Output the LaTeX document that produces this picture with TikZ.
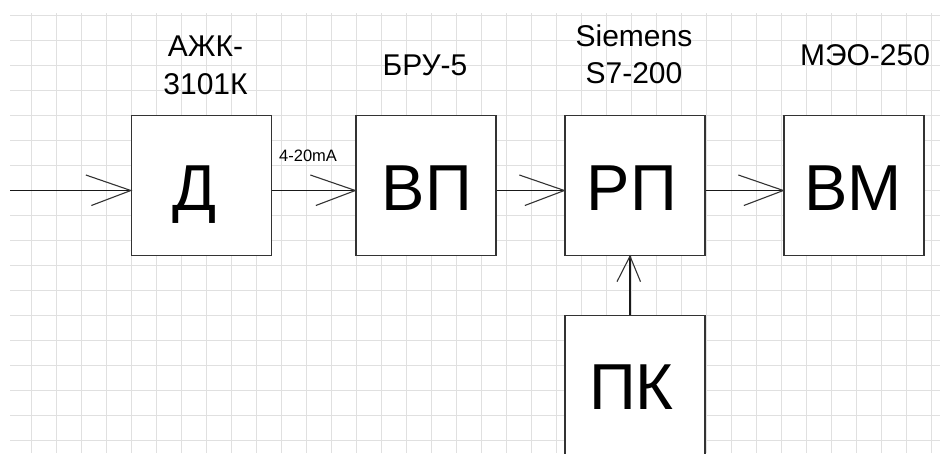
\documentclass[tikz,border=0pt]{standalone}
\usepackage{fontspec}
\setmainfont{Liberation Sans}
\begin{document}
\begin{tikzpicture}[x=1pt,y=-1pt,
  gridline/.style={draw=black!12,line width=1pt},
  blk/.style={draw=black!80,line width=1.3pt,fill=white,minimum width=140pt,minimum height=140pt,inner sep=0pt},
  big/.style={font=\fontsize{65}{65}\selectfont,anchor=base,inner sep=0pt},
  lbl/.style={font=\fontsize{30}{36}\selectfont,anchor=base,inner sep=0pt},
  small/.style={font=\fontsize{16.5}{18}\selectfont,anchor=base west,inner sep=0pt},
  conn/.style={draw=black!90,line width=1.3pt},
  barb/.style={draw=black!80,line width=1.1pt}]
\useasboundingbox (0,0) rectangle (940,453);
\clip (0,0) rectangle (940,453);
\fill[white] (0,0) rectangle (940,453);
% grid
\foreach \i in {0,...,17} \draw[gridline] (10,15.5+25*\i) -- (940,15.5+25*\i);
\foreach \i in {0,...,36} \draw[gridline] (31.5+25*\i,13) -- (31.5+25*\i,453);
% blocks
\node[blk] (d) at (201.5,185.5) {};
\node[blk] (vp) at (426,185.5) {};
\node[blk] (rp) at (635,185.5) {};
\node[blk] (vm) at (854,185.5) {};
\node[blk] (pk) at (635,385.5) {};
% block texts
\node[big] (dt) at (195,210) {Д};
\node[big] (vpt) at (427,210) {ВП};
\node[big] (rpt) at (631.7,210) {РП};
\node[big] (vmt) at (853.3,210) {ВМ};
\node[big] (pkt) at (631.5,409.3) {ПК};
% labels
\node[lbl] (l1a) at (205.5,56) {АЖК-};
\node[lbl] (l1b) at (205.5,94) {3101К};
\node[lbl] (l2) at (425,75) {БРУ-5};
\node[lbl] (l3a) at (634,46.7) {Siemens};
\node[lbl] (l3b) at (634,83.3) {S7-200};
\node[lbl] (l4) at (865,65) {МЭО-250};
\node[small] (ma) at (279,161.7) {4-20mA};
% connectors
\coordinate (in) at (10,190.5);
\draw[conn] (in) -- (in -| d.west);
\draw[conn] ([yshift=-5pt]d.east) -- ([yshift=-5pt]vp.west);
\draw[conn] ([yshift=-5pt]vp.east) -- ([yshift=-5pt]rp.west);
\draw[conn] ([yshift=-5pt]rp.east) -- ([yshift=-5pt]vm.west);
\draw[conn] ([xshift=-5pt]pk.north) -- ([xshift=-5pt]rp.south);
% arrow barbs
\foreach \t in {d,vp,rp,vm}
  \draw[barb] ([yshift=-5pt]\t.west) ++(-45,-15.5) -- ([yshift=-5pt]\t.west) -- ++(-39.5,15);
\draw[barb] ([xshift=-5pt]rp.south) ++(-13,25.5) -- ([xshift=-5pt]rp.south) -- ++(10.5,25.5);
\end{tikzpicture}
\end{document}
